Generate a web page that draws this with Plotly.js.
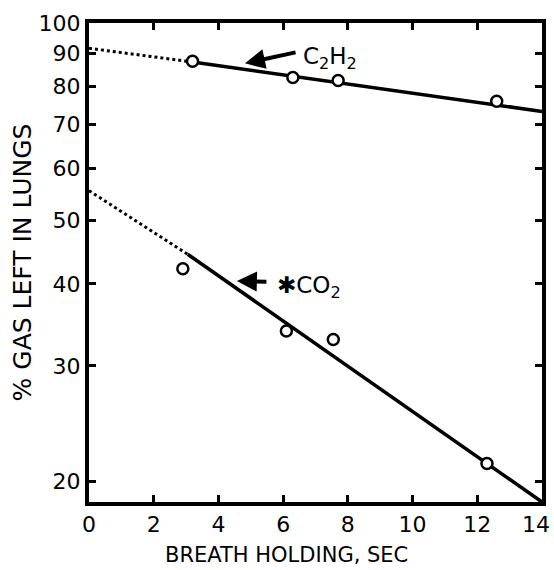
<!DOCTYPE html>
<html>
<head>
<meta charset="utf-8">
<script src="https://cdn.plot.ly/plotly-3.0.1.min.js"></script>
<style>html,body{margin:0;padding:0;background:#fff;}#chart{width:554px;height:570px;}</style>
</head>
<body>
<div id="chart"></div>
<script>
// C2H2 measured points
const c2h2X = [3.2, 6.3, 7.7, 12.6];
const c2h2Y = [87.4, 82.6, 81.7, 76.0];
// C2H2 fitted line (solid) and extrapolation (dotted)
const c2h2LineX = [3.2, 14];
const c2h2LineY = [87.2, 73.3];
const c2h2DotX = [0, 3.2];
const c2h2DotY = [91.5, 87.2];

// CO2 measured points
const co2X = [2.9, 6.1, 7.55, 12.3];
const co2Y = [42.2, 33.9, 32.9, 21.3];
// CO2 fitted line (solid) and extrapolation (dotted)
const co2LineX = [3.05, 14];
const co2LineY = [44.4, 18.6];
const co2DotX = [0, 3.05];
const co2DotY = [55.5, 44.4];

const xTicks = [0, 2, 4, 6, 8, 10, 12, 14];
const xTickText = ['0', '2', '4', '6', '8', '10', '12', ''];
const xEndTick = [14];
const xEndText = ['14'];
const yTicks = [20, 30, 40, 50, 60, 70, 80, 90, 100];

const xTitle = 'BREATH HOLDING, SEC';
const yTitle = '% GAS LEFT IN LUNGS';

const FONT = "DejaVu Sans, sans-serif";

const traces = [
  {x: c2h2DotX, y: c2h2DotY, mode: 'lines', line: {color: '#000', width: 3, dash: '3px,3px'}, hoverinfo: 'skip'},
  {x: c2h2LineX, y: c2h2LineY, mode: 'lines', line: {color: '#000', width: 3.5}},
  {x: c2h2X, y: c2h2Y, mode: 'markers', marker: {symbol: 'circle', size: 11, color: '#fff', line: {color: '#000', width: 2.5}}},
  // drawn against the overlaying x axis (same range) so that axis is rendered
  {x: co2DotX, y: co2DotY, xaxis: 'x2', yaxis: 'y', mode: 'lines', line: {color: '#000', width: 3, dash: '3px,3px'}, hoverinfo: 'skip'},
  {x: co2LineX, y: co2LineY, mode: 'lines', line: {color: '#000', width: 3.5}},
  {x: co2X, y: co2Y, mode: 'markers', marker: {symbol: 'circle', size: 11, color: '#fff', line: {color: '#000', width: 2.5}}}
];

const layout = {
  width: 554, height: 570,
  margin: {l: 89, r: 12, t: 23, b: 68},
  paper_bgcolor: '#fff', plot_bgcolor: '#fff',
  showlegend: false,
  font: {family: FONT, color: '#000', size: 22},
  xaxis: {
    range: [0, 14],
    tickvals: xTicks,
    ticktext: xTickText,
    ticks: 'inside', ticklen: 7, tickwidth: 3, tickcolor: '#000',
    showline: true, linecolor: '#000', linewidth: 4, mirror: 'ticks',
    showgrid: false, zeroline: false,
    tickfont: {family: FONT, size: 22, color: '#000'}
  },
  xaxis2: {
    overlaying: 'x', anchor: 'y', side: 'bottom',
    range: [0, 14],
    tickvals: xEndTick,
    ticktext: xEndText,
    ticks: '', showline: false, showgrid: false, zeroline: false,
    ticklabelshift: -6,
    ticklabelstandoff: 7,
    ticklabeloverflow: 'allow',
    tickfont: {family: FONT, size: 22, color: '#000'}
  },
  yaxis: {
    type: 'log',
    range: [Math.log10(18.6), 2],
    tickvals: yTicks,
    ticktext: yTicks.map(String),
    ticks: 'inside', ticklen: 7, tickwidth: 3, tickcolor: '#000',
    showline: true, linecolor: '#000', linewidth: 4, mirror: 'ticks',
    showgrid: false, zeroline: false,
    ticklabeloverflow: 'allow',
    tickfont: {family: FONT, size: 22, color: '#000'},
    title: {text: yTitle, font: {family: FONT, size: 25, color: '#000'}, standoff: 1}
  },
  annotations: [
    {x: 0.437, y: -0.111, xref: 'paper', yref: 'paper', xanchor: 'center', yanchor: 'middle',
     borderpad: 0, showarrow: false, text: xTitle, font: {family: FONT, size: 21, color: '#000'}},
    {x: 4.82, y: Math.log10(86.8), xref: 'x', yref: 'y',
     ax: 6.43, ay: Math.log10(90.3), axref: 'x', ayref: 'y',
     showarrow: true, arrowhead: 2, arrowsize: 1, arrowwidth: 4, arrowcolor: '#000', text: ''},
    {x: 6.55, y: Math.log10(88.4), xref: 'x', yref: 'y', xanchor: 'left', yanchor: 'middle',
     showarrow: false, text: 'C<sub>2</sub>H<sub>2</sub>', font: {family: FONT, size: 23, color: '#000'}},
    {x: 4.57, y: Math.log10(40.4), xref: 'x', yref: 'y',
     ax: 5.53, ay: Math.log10(40.3), axref: 'x', ayref: 'y',
     showarrow: true, arrowhead: 2, arrowsize: 1, arrowwidth: 4, arrowcolor: '#000', text: ''},
    {x: 5.75, y: Math.log10(39.6), xref: 'x', yref: 'y', xanchor: 'left', yanchor: 'middle',
     showarrow: false, text: '✱CO<sub>2</sub>', font: {family: FONT, size: 23, color: '#000'}}
  ]
};

Plotly.newPlot('chart', traces, layout, {displayModeBar: false, staticPlot: true});
</script>
</body>
</html>
